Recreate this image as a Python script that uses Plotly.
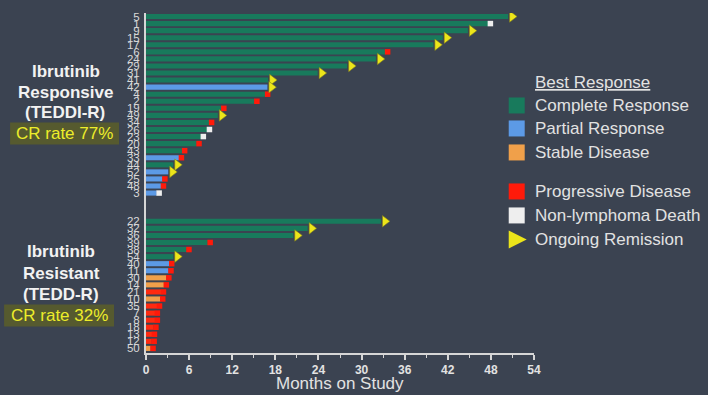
import plotly.graph_objects as go

# ---------------- data ----------------
resp_ids = ["5", "1", "9", "15", "17", "6", "24", "29", "31", "41", "42", "4", "2",
            "19", "49", "34", "26", "23", "20", "43", "33", "44", "52", "25", "48", "3"]
resp_months = [50.4, 47.6, 44.8, 41.3, 40.0, 33.3, 32.0, 28.0, 23.9, 17.0, 16.9, 16.6, 15.1,
               10.5, 10.0, 8.8, 8.5, 7.65, 7.05, 5.05, 4.6, 3.8, 3.1, 2.3, 2.1, 1.5]
resp_best = ["CR", "CR", "CR", "CR", "CR", "CR", "CR", "CR", "CR", "CR", "PR", "CR", "CR",
             "CR", "CR", "CR", "CR", "CR", "CR", "CR", "PR", "CR", "PR", "PR", "PR", "PR"]
resp_event = ["ON", "DEATH", "ON", "ON", "ON", "PD", "ON", "ON", "ON", "ON", "ON", "PD", "PD",
              "PD", "ON", "PD", "DEATH", "DEATH", "PD", "PD", "PD", "ON", "ON", "PD", "PD", "DEATH"]

res_ids = ["22", "32", "36", "39", "38", "54", "40", "11", "30", "14", "21", "10", "35",
           "7", "8", "18", "13", "12", "50"]
res_months = [32.7, 22.5, 20.5, 8.6, 5.65, 3.8, 3.25, 3.15, 2.85, 2.5, 2.1, 2.0, 1.55,
              1.25, 1.25, 1.05, 0.85, 0.8, 0.65]
res_best = ["CR", "CR", "CR", "CR", "CR", "CR", "PR", "PR", "SD", "SD", "PD", "SD", "PD",
            "PD", "PD", "PD", "PD", "PD", "SD"]
res_event = ["ON", "ON", "ON", "PD", "PD", "ON", "PD", "PD", "PD", "PD", "PD", "PD", "PD",
             "PD", "PD", "PD", "PD", "PD", "PD"]

x_ticks = [0, 6, 12, 18, 24, 30, 36, 42, 48, 54]

# ---------------- styling ----------------
BG = "#3b4351"
TXT = "#e2e2e2"
FONT = "Liberation Sans, Arial, sans-serif"
best_colors = {"CR": "#187a5c", "PR": "#5c9ae6", "SD": "#f0a04a", "PD": "#ff2a10"}
best_names = {"CR": "Complete Response", "PR": "Partial Response",
              "SD": "Stable Disease", "PD": "Progressive Disease"}

GAP = 3  # empty slots between the two cohorts
ids = resp_ids + res_ids
months = resp_months + res_months
best = resp_best + res_best
event = resp_event + res_event
ypos = list(range(len(resp_ids))) + [len(resp_ids) + GAP + j for j in range(len(res_ids))]

fig = go.Figure()

for key in ["CR", "PR", "SD", "PD"]:
    idx = [i for i, b in enumerate(best) if b == key]
    if not idx:
        continue
    fig.add_trace(go.Bar(
        orientation="h",
        x=[months[i] for i in idx],
        y=[ypos[i] for i in idx],
        base=0,
        width=0.72,
        marker=dict(color=best_colors[key], line=dict(width=0)),
        name=best_names[key],
        showlegend=False,
        hoverinfo="x+name",
    ))

# event markers
sq_off = 0.33   # square sits just past the bar end
tri_off = 0.55  # triangle sits just past the bar end
pd_i = [i for i, e in enumerate(event) if e == "PD"]
de_i = [i for i, e in enumerate(event) if e == "DEATH"]
on_i = [i for i, e in enumerate(event) if e == "ON"]
fig.add_trace(go.Scatter(
    x=[months[i] + sq_off for i in pd_i], y=[ypos[i] for i in pd_i], mode="markers",
    marker=dict(symbol="square", size=5.5, color="#ff1a0a", line=dict(width=0)),
    showlegend=False, name="Progressive Disease"))
fig.add_trace(go.Scatter(
    x=[months[i] + sq_off for i in de_i], y=[ypos[i] for i in de_i], mode="markers",
    marker=dict(symbol="square", size=5.5, color="#eeeeee", line=dict(width=0)),
    showlegend=False, name="Non-lymphoma Death"))
fig.add_trace(go.Scatter(
    x=[months[i] + tri_off for i in on_i], y=[ypos[i] for i in on_i], mode="markers",
    marker=dict(symbol="triangle-right", size=10, color="#ece51a",
                line=dict(width=0.6, color="#7a7a20")),
    showlegend=False, name="Ongoing Remission"))

# ---------------- geometry (page pixels) ----------------
W, H = 708, 395
PL, PR_, PT, PB = 146, 534.3, 12.5, 352.6   # plot box in page pixels
L, R, T, B = PL, W - PR_, PT, H - PB
pw, ph = PR_ - PL, PB - PT


def px(xp):
    return (xp - PL) / pw


def py(yp):
    return (PB - yp) / ph


n_slots = len(resp_ids) + GAP + len(res_ids)
fig.update_layout(
    width=W, height=H,
    margin=dict(l=L, r=R, t=T, b=B, pad=0),
    paper_bgcolor=BG, plot_bgcolor=BG,
    barmode="overlay",
    font=dict(family=FONT, color=TXT),
    showlegend=False,
    xaxis=dict(
        range=[0, 54], tickvals=x_ticks, ticktext=[str(v) for v in x_ticks],
        showgrid=False, zeroline=False,
        showline=True, linecolor="#d6d6d6", linewidth=2,
        ticks="outside", ticklen=5, tickwidth=1.5, tickcolor="#d6d6d6",
        minor=dict(dtick=3, ticks="outside", ticklen=3, tickcolor="#d6d6d6", tickwidth=1.2),
        tickfont=dict(size=12, color=TXT, family=FONT, weight="bold"),
        fixedrange=True,
    ),
    yaxis=dict(
        range=[n_slots - 0.35, -0.5], tickvals=ypos, ticktext=ids,
        showgrid=False, zeroline=False,
        showline=True, linecolor="#d6d6d6", linewidth=2,
        ticks="", ticklabelstandoff=2,
        tickfont=dict(size=11.5, color="#d8d8d8", family="Liberation Sans Narrow, Liberation Sans, Arial"),
        fixedrange=True,
    ),
)

ann = []
shapes = []

# axis title
ann.append(dict(x=px(340), y=py(383), xref="paper", yref="paper", text="Months on Study",
                showarrow=False, font=dict(size=17, color=TXT), xanchor="center", yanchor="middle"))

# cohort labels with highlighted CR rate
shapes.append(dict(type="rect", xref="paper", yref="paper",
                   x0=px(10), x1=px(119), y0=py(144), y1=py(122),
                   fillcolor="rgba(110,110,20,0.55)", line=dict(width=0), layer="below"))
shapes.append(dict(type="rect", xref="paper", yref="paper",
                   x0=px(4), x1=px(114), y0=py(326), y1=py(304),
                   fillcolor="rgba(110,110,20,0.55)", line=dict(width=0), layer="below"))
for txt, xc, yc, bold, col in [
    ("Ibrutinib", 66, 71, True, "#f2f2f2"),
    ("Responsive", 65, 92, True, "#f2f2f2"),
    ("(TEDDI-R)", 65, 112, True, "#f2f2f2"),
    ("CR rate 77%", 64, 133, False, "#eded2a"),
    ("Ibrutinib", 61, 251, True, "#f2f2f2"),
    ("Resistant", 61, 273, True, "#f2f2f2"),
    ("(TEDD-R)", 61, 294, True, "#f2f2f2"),
    ("CR rate 32%", 59, 315, False, "#eded2a"),
]:
    ann.append(dict(x=px(xc), y=py(yc), xref="paper", yref="paper",
                    text=f"<b>{txt}</b>" if bold else txt, showarrow=False,
                    font=dict(size=17, color=col), xanchor="center", yanchor="middle"))

# custom legend
ann.append(dict(x=px(533), y=py(82), xref="paper", yref="paper", text="<u>Best Response</u>",
                showarrow=False, font=dict(size=17, color=TXT), xanchor="left", yanchor="middle"))
legend_items = [
    ("Complete Response", 105, "sq", best_colors["CR"]),
    ("Partial Response", 128, "sq", best_colors["PR"]),
    ("Stable Disease", 152, "sq", best_colors["SD"]),
    ("Progressive Disease", 191, "sq", "#ff1a0a"),
    ("Non-lymphoma Death", 215, "sq", "#eeeeee"),
    ("Ongoing Remission", 239, "tri", "#ece51a"),
]
for label, yc, kind, col in legend_items:
    if kind == "sq":
        shapes.append(dict(type="rect", xref="paper", yref="paper",
                           x0=px(509), x1=px(525), y0=py(yc + 8), y1=py(yc - 8),
                           fillcolor=col, line=dict(width=0)))
    else:
        shapes.append(dict(type="path", xref="paper", yref="paper",
                           path=f"M {px(509)},{py(yc - 9)} L {px(527)},{py(yc)} L {px(509)},{py(yc + 9)} Z",
                           fillcolor=col, line=dict(width=0)))
    ann.append(dict(x=px(533), y=py(yc), xref="paper", yref="paper", text=label,
                    showarrow=False, font=dict(size=17, color=TXT), xanchor="left", yanchor="middle"))

fig.update_layout(annotations=ann, shapes=shapes)

fig.write_html(
    "out.html",
    config={"displayModeBar": False},
    post_script=f"document.body.style.margin='0';document.body.style.background='{BG}';",
)
